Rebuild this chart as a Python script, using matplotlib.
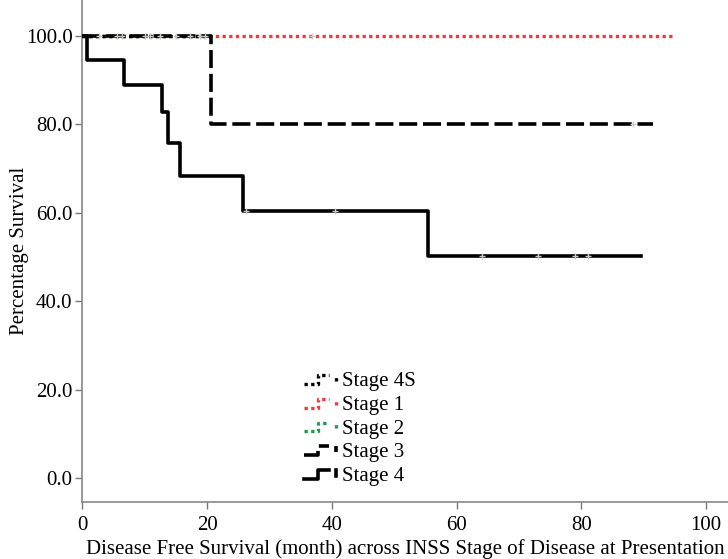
import numpy as np
import matplotlib
matplotlib.use("Agg")
import matplotlib.pyplot as plt
from matplotlib.lines import Line2D
from matplotlib.legend_handler import HandlerLine2D

# survival curves (time in months, survival in %)
stage4s_t = [0, 18.5]
stage4s_s = [100, 100]
stage1_t = [0, 94.6]
stage1_s = [100, 100]
stage2_t = [0, 21.2]
stage2_s = [100, 100]
stage3_t = [0, 20.6, 91.4]
stage3_s = [100, 80, 80]
stage4_t = [0, 0.8, 6.7, 12.8, 13.7, 15.7, 25.7, 55.4, 89.6]
stage4_s = [100, 94.5, 88.9, 82.8, 75.8, 68.2, 60.4, 50.3, 50.3]

# censored observations
cens_top_t = [2.7, 5.6, 6.3, 10.0, 10.8, 12.4, 15.0, 17.2, 18.8, 19.6, 36.8]
cens_s3_t = [88.2]
cens_s4_t = [26.3, 40.5, 64.0, 73.0, 79.0, 81.0]

yticks = [0, 20, 40, 60, 80, 100]
ytick_labels = ["0.0", "20.0", "40.0", "60.0", "80.0", "100.0"]
xticks = [0, 20, 40, 60, 80, 100]


def step_value(t_list, s_list, t):
    # survival value of a step curve at time t
    idx = np.searchsorted(t_list, t, side='right') - 1
    return np.asarray(s_list)[idx]


class StepHandler(HandlerLine2D):
    # legend key drawn as a small step like the SPSS output
    def create_artists(self, legend, orig_handle, xdescent, ydescent,
                       width, height, fontsize, trans):
        lo = height * 0.15 - ydescent
        hi = height * 0.75 - ydescent
        x0 = -xdescent
        xs = [x0, x0 + width * 0.45, x0 + width * 0.45, x0 + width * 0.8]
        ys = [lo, lo, hi, hi]
        line = Line2D(xs, ys)
        line.update_from(orig_handle)
        tick = Line2D([x0 + width, x0 + width], [hi - height * 0.4, hi])
        tick.update_from(orig_handle)
        line.set_transform(trans)
        tick.set_transform(trans)
        return [line, tick]


plt.rcParams['font.family'] = ['Liberation Serif', 'DejaVu Serif']

fig = plt.figure(figsize=(7.28, 5.59), dpi=100)
ax = fig.add_axes([0.113, 0.102, 0.887, 0.898])

l1, = ax.step(stage1_t, stage1_s, where='post', color='#f03c3c', lw=2.4,
              linestyle=(0, (1, 1)), label='Stage 1', zorder=2)
l2, = ax.step(stage2_t, stage2_s, where='post', color='#1f9a4a', lw=2.4,
              linestyle=(0, (1, 1)), label='Stage 2', zorder=3)
l4s, = ax.step(stage4s_t, stage4s_s, where='post', color='black', lw=2.4,
               linestyle=(0, (1, 1)), label='Stage 4S', zorder=4)
l3, = ax.step(stage3_t, stage3_s, where='post', color='black', lw=2.6,
              linestyle=(0, (5, 1.6)), label='Stage 3', zorder=5)
l4, = ax.step(stage4_t, stage4_s, where='post', color='black', lw=2.6,
              linestyle='-', label='Stage 4', zorder=6)

mk = dict(marker='+', color='#c8c8c8', markersize=5, mew=1, linestyle='none', zorder=7)
ax.plot(cens_top_t, [100] * len(cens_top_t), **mk)
ax.plot(cens_s3_t, step_value(stage3_t, stage3_s, cens_s3_t), **mk)
ax.plot(cens_s4_t, step_value(stage4_t, stage4_s, cens_s4_t), **mk)

ax.set_xlim(0, 103.5)
ax.set_ylim(-5.4, 108.1)
ax.set_xticks(xticks)
ax.set_yticks(yticks)
ax.set_yticklabels(ytick_labels)
ax.tick_params(labelsize=15, color='#777777', length=5, width=1, pad=2)
ax.tick_params(axis='x', pad=5)
for side in ['top', 'right']:
    ax.spines[side].set_visible(False)
for side in ['left', 'bottom']:
    ax.spines[side].set_color('#888888')
    ax.spines[side].set_linewidth(1.2)

ax.set_xlabel('Disease Free Survival (month) across INSS Stage of Disease at Presentation',
              fontsize=15, labelpad=3)
ax.set_ylabel('Percentage Survival', fontsize=15, labelpad=-2)

handles = [l4s, l1, l2, l3, l4]
hmap = {h: StepHandler() for h in handles}
ax.legend(handles, [h.get_label() for h in handles], handler_map=hmap,
          loc='upper left', bbox_to_anchor=(0.344, 0.26), frameon=False,
          borderpad=0, borderaxespad=0,
          fontsize=15, handlelength=1.5, handletextpad=0.3, labelspacing=0.2)

fig.savefig('out.png', dpi=100)
